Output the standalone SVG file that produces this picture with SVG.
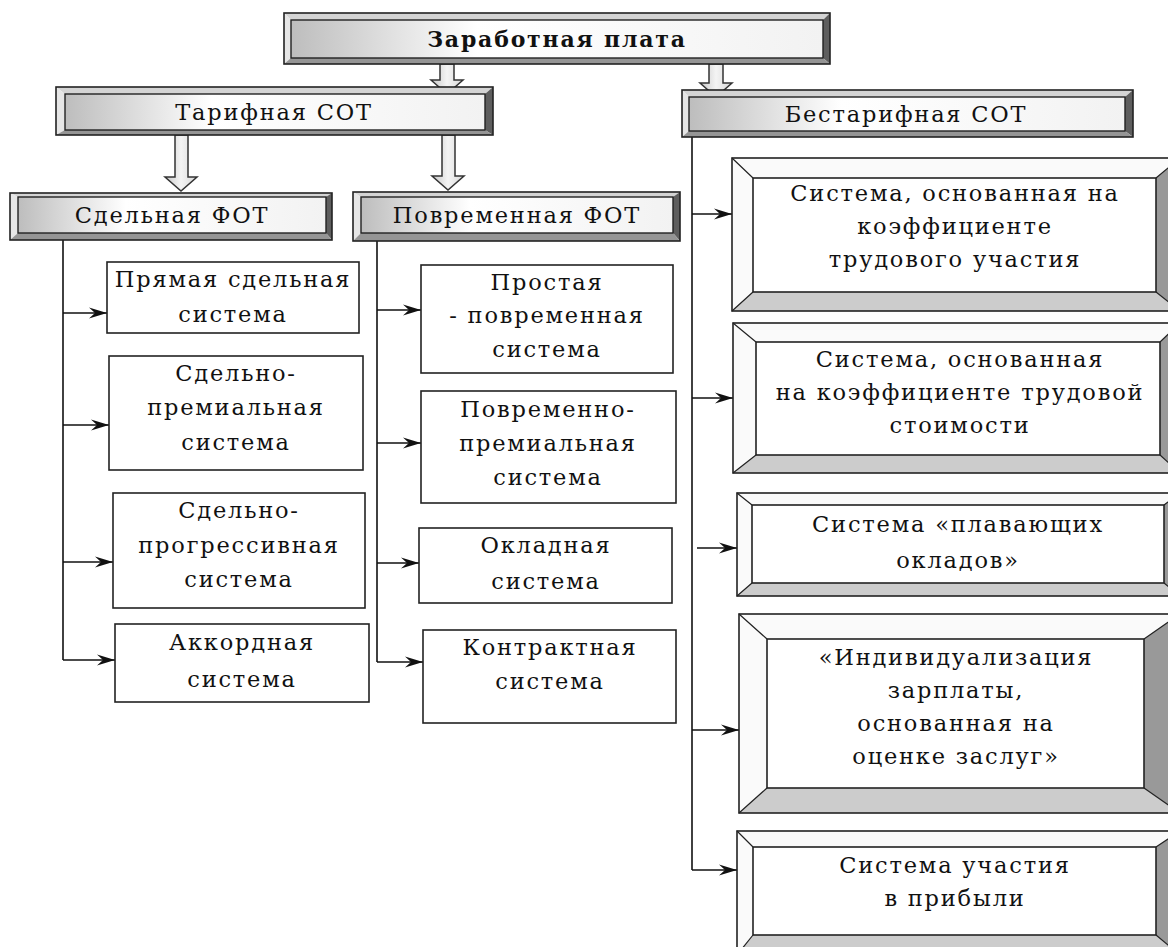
<svg xmlns="http://www.w3.org/2000/svg" width="1168" height="947" viewBox="0 0 1168 947">
<defs>
<linearGradient id="hg" x1="0" y1="0" x2="1" y2="0">
<stop offset="0" stop-color="#bdbdbd"/>
<stop offset="0.35" stop-color="#ffffff"/>
<stop offset="1" stop-color="#f2f2f2"/>
</linearGradient>
<linearGradient id="ag" x1="0" y1="0" x2="1" y2="0">
<stop offset="0" stop-color="#c8c8c8"/>
<stop offset="0.5" stop-color="#f4f4f4"/>
<stop offset="1" stop-color="#d8d8d8"/>
</linearGradient>
<marker id="ah" markerUnits="userSpaceOnUse" markerWidth="18" markerHeight="12" refX="18" refY="6" orient="auto">
<path d="M0,0.5 L18,6 L0,11.5 L6,6 z" fill="#111"/>
</marker>
</defs>
<style>
text{font-family:"DejaVu Serif","Liberation Serif",serif;font-size:22.5px;fill:#111;text-anchor:middle;letter-spacing:1.8px}
.t{font-weight:bold;font-size:22px;letter-spacing:1.8px}
.o{stroke:#222;stroke-width:1.6}
.tb{fill:#d4d4d4}.lb{fill:#e6e6e6}.rb{fill:#5e5e5e}.bb{fill:#959595}
.in{fill:url(#hg);stroke:#222;stroke-width:1.4}
.pl{fill:#fff;stroke:#222;stroke-width:1.6}
.w{fill:#fafafa}.g{fill:#cccccc}.d{fill:#999999}
.dg{stroke:#222;stroke-width:1.2;fill:none}
.c{stroke:#111;stroke-width:1.6;fill:none}
.ba{fill:url(#ag);stroke:#333;stroke-width:1.5}
</style>

<g id="connectors">
<polygon class="ba" points="440,64 454,64 454,80 463,80 447,94 431,80 440,80"/>
<polygon class="ba" points="709,64 723,64 723,83 732,83 716,97 700,83 709,83"/>
<polygon class="ba" points="175,135 188,135 188,177 197,177 181,191 165,177 175,177"/>
<polygon class="ba" points="442,135 455,135 455,176 464,176 448,190 432,176 442,176"/>
<path class="c" d="M63,240 V660"/>
<path class="c" d="M63,313 H107" marker-end="url(#ah)"/>
<path class="c" d="M63,425 H109" marker-end="url(#ah)"/>
<path class="c" d="M63,562 H113" marker-end="url(#ah)"/>
<path class="c" d="M63,660 H115" marker-end="url(#ah)"/>
<path class="c" d="M377,241 V662"/>
<path class="c" d="M377,310 H421" marker-end="url(#ah)"/>
<path class="c" d="M377,443 H421" marker-end="url(#ah)"/>
<path class="c" d="M377,563 H419" marker-end="url(#ah)"/>
<path class="c" d="M377,662 H423" marker-end="url(#ah)"/>
<path class="c" d="M692,137 V870"/>
<path class="c" d="M692,214 H732" marker-end="url(#ah)"/>
<path class="c" d="M692,398 H733" marker-end="url(#ah)"/>
<path class="c" d="M697,548 H737" marker-end="url(#ah)"/>
<path class="c" d="M692,730 H739" marker-end="url(#ah)"/>
<path class="c" d="M692,870 H737" marker-end="url(#ah)"/>
</g>

<g id="n-zarplata">
<polygon class="tb" points="284,13 830,13 823,20 291,20"/>
<polygon class="lb" points="284,13 291,20 291,58 284,64"/>
<polygon class="rb" points="830,13 830,64 823,58 823,20"/>
<polygon class="bb" points="284,64 291,58 823,58 830,64"/>
<rect class="o" x="284" y="13" width="546" height="51" fill="none"/>
<rect class="in" x="291" y="20" width="532" height="38"/>
<text class="t" x="557" y="47">Заработная плата</text>
</g>

<g id="n-tarif">
<polygon class="tb" points="56,87 493,87 485,94 65,94"/>
<polygon class="lb" points="56,87 65,94 65,130 56,135"/>
<polygon class="rb" points="493,87 493,135 485,130 485,94"/>
<polygon class="bb" points="56,135 65,130 485,130 493,135"/>
<rect class="o" x="56" y="87" width="437" height="48" fill="none"/>
<rect class="in" x="65" y="94" width="420" height="36"/>
<text x="274" y="120">Тарифная СОТ</text>
</g>

<g id="n-bestarif">
<polygon class="tb" points="682,90 1133,90 1125,97 689,97"/>
<polygon class="lb" points="682,90 689,97 689,131 682,137"/>
<polygon class="rb" points="1133,90 1133,137 1125,131 1125,97"/>
<polygon class="bb" points="682,137 689,131 1125,131 1133,137"/>
<rect class="o" x="682" y="90" width="451" height="47" fill="none"/>
<rect class="in" x="689" y="97" width="436" height="34"/>
<text x="906" y="122">Бестарифная СОТ</text>
</g>

<g id="n-sdel">
<polygon class="tb" points="10,193 332,193 326,197 18,197"/>
<polygon class="lb" points="10,193 18,197 18,233 10,240"/>
<polygon class="rb" points="332,193 332,240 326,233 326,197"/>
<polygon class="bb" points="10,240 18,233 326,233 332,240"/>
<rect class="o" x="10" y="193" width="322" height="47" fill="none"/>
<rect class="in" x="18" y="197" width="308" height="36"/>
<text x="172" y="223">Сдельная ФОТ</text>
</g>

<g id="n-povr">
<polygon class="tb" points="353,192 680,192 673,197 361,197"/>
<polygon class="lb" points="353,192 361,197 361,233 353,241"/>
<polygon class="rb" points="680,192 680,241 673,233 673,197"/>
<polygon class="bb" points="353,241 361,233 673,233 680,241"/>
<rect class="o" x="353" y="192" width="327" height="49" fill="none"/>
<rect class="in" x="361" y="197" width="312" height="36"/>
<text x="517" y="223">Повременная ФОТ</text>
</g>

<g id="n-pryamaya">
<rect class="pl" x="107" y="262" width="252" height="71"/>
<text x="233" y="287">Прямая сдельная</text>
<text x="233" y="322">система</text>
</g>
<g id="n-sdel-prem">
<rect class="pl" x="109" y="356" width="254" height="114"/>
<text x="236" y="381">Сдельно-</text>
<text x="236" y="415">премиальная</text>
<text x="236" y="450">система</text>
</g>
<g id="n-sdel-progr">
<rect class="pl" x="113" y="493" width="252" height="115"/>
<text x="239" y="518">Сдельно-</text>
<text x="239" y="553">прогрессивная</text>
<text x="239" y="587">система</text>
</g>
<g id="n-akkord">
<rect class="pl" x="115" y="624" width="254" height="78"/>
<text x="242" y="650">Аккордная</text>
<text x="242" y="687">система</text>
</g>

<g id="n-prostaya">
<rect class="pl" x="421" y="265" width="252" height="108"/>
<text x="547" y="290">Простая</text>
<text x="547" y="323">- повременная</text>
<text x="547" y="357">система</text>
</g>
<g id="n-povr-prem">
<rect class="pl" x="421" y="391" width="255" height="112"/>
<text x="548" y="417">Повременно-</text>
<text x="548" y="451">премиальная</text>
<text x="548" y="485">система</text>
</g>
<g id="n-oklad">
<rect class="pl" x="419" y="528" width="253" height="75"/>
<text x="546" y="553">Окладная</text>
<text x="546" y="589">система</text>
</g>
<g id="n-kontrakt">
<rect class="pl" x="423" y="630" width="253" height="93"/>
<text x="550" y="655">Контрактная</text>
<text x="550" y="689">система</text>
</g>

<g id="n-ktu">
<polygon class="w" points="732,158 1180,158 1156,178 753,178"/>
<polygon class="w" points="732,158 753,178 753,292 732,311"/>
<polygon class="d" points="1180,158 1180,311 1156,292 1156,178"/>
<polygon class="g" points="732,311 753,292 1156,292 1180,311"/>
<rect class="o" x="732" y="158" width="448" height="153" fill="none"/>
<path class="dg" d="M732,158 L753,178 M1180,158 L1156,178 M732,311 L753,292 M1180,311 L1156,292"/>
<rect class="pl" x="753" y="178" width="403" height="114"/>
<text x="955" y="201">Система, основанная на</text>
<text x="955" y="234">коэффициенте</text>
<text x="955" y="267">трудового участия</text>
</g>

<g id="n-kts">
<polygon class="w" points="733,323 1180,323 1160,342 756,342"/>
<polygon class="w" points="733,323 756,342 756,455 733,473"/>
<polygon class="d" points="1180,323 1180,473 1160,455 1160,342"/>
<polygon class="g" points="733,473 756,455 1160,455 1180,473"/>
<rect class="o" x="733" y="323" width="447" height="150" fill="none"/>
<path class="dg" d="M733,323 L756,342 M1180,323 L1160,342 M733,473 L756,455 M1180,473 L1160,455"/>
<rect class="pl" x="756" y="342" width="404" height="113"/>
<text x="960" y="367">Система, основанная</text>
<text x="960" y="400">на коэффициенте трудовой</text>
<text x="960" y="433">стоимости</text>
</g>

<g id="n-plav">
<polygon class="w" points="737,493 1180,493 1164,505 752,505"/>
<polygon class="w" points="737,493 752,505 752,583 737,596"/>
<polygon class="d" points="1180,493 1180,596 1164,583 1164,505"/>
<polygon class="g" points="737,596 752,583 1164,583 1180,596"/>
<rect class="o" x="737" y="493" width="443" height="103" fill="none"/>
<path class="dg" d="M737,493 L752,505 M1180,493 L1164,505 M737,596 L752,583 M1180,596 L1164,583"/>
<rect class="pl" x="752" y="505" width="412" height="78"/>
<text x="958" y="532">Система «плавающих</text>
<text x="958" y="568">окладов»</text>
</g>

<g id="n-individ">
<polygon class="w" points="739,614 1180,614 1144,639 767,639"/>
<polygon class="w" points="739,614 767,639 767,788 739,813"/>
<polygon class="d" points="1180,614 1180,813 1144,788 1144,639"/>
<polygon class="g" points="739,813 767,788 1144,788 1180,813"/>
<rect class="o" x="739" y="614" width="441" height="199" fill="none"/>
<path class="dg" d="M739,614 L767,639 M1180,614 L1144,639 M739,813 L767,788 M1180,813 L1144,788"/>
<rect class="pl" x="767" y="639" width="377" height="149"/>
<text x="956" y="665">«Индивидуализация</text>
<text x="956" y="698">зарплаты,</text>
<text x="956" y="731">основанная на</text>
<text x="956" y="764">оценке заслуг»</text>
</g>

<g id="n-pribyl">
<polygon class="w" points="737,831 1180,831 1156,847 753,847"/>
<polygon class="w" points="737,831 753,847 753,935 737,955"/>
<polygon class="d" points="1180,831 1180,955 1156,935 1156,847"/>
<polygon class="g" points="737,955 753,935 1156,935 1180,955"/>
<rect class="o" x="737" y="831" width="443" height="124" fill="none"/>
<path class="dg" d="M737,831 L753,847 M1180,831 L1156,847 M737,955 L753,935 M1180,955 L1156,935"/>
<rect class="pl" x="753" y="847" width="403" height="88"/>
<text x="955" y="873">Система участия</text>
<text x="955" y="906">в прибыли</text>
</g>
</svg>
